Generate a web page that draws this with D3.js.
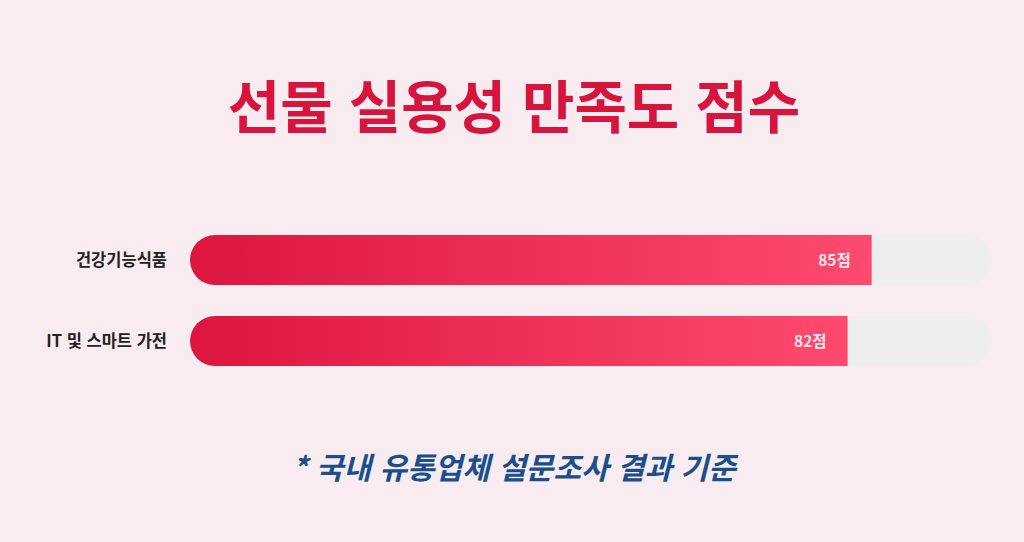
<!DOCTYPE html>
<html lang="ko">
<head>
<meta charset="UTF-8">
<title>선물 실용성 만족도 점수</title>
<script src="https://d3js.org/d3.v7.min.js"></script>
<style>
  html, body { margin: 0; padding: 0; background: #f9ecf0; }
  svg { display: block; }
</style>
</head>
<body>
<script>
// 데이터
const categories = ['건강기능식품', 'IT 및 스마트 가전'];
const scores = [85, 82];
const unit = '점';
const title = '선물 실용성 만족도 점수';
const note = '* 국내 유통업체 설문조사 결과 기준';

const W = 1024, H = 542;
const font = "'Noto Sans CJK KR', 'Noto Sans', sans-serif";

const svg = d3.select('body').append('svg')
    .attr('width', W).attr('height', H);

svg.append('rect').attr('width', W).attr('height', H).attr('fill', '#f9ecf0');

// 그라디언트
const defs = svg.append('defs');
const grad = defs.append('linearGradient').attr('id', 'barGrad')
    .attr('x1', '0%').attr('x2', '100%').attr('y1', '0%').attr('y2', '0%');
grad.append('stop').attr('offset', '0%').attr('stop-color', '#dc163e');
grad.append('stop').attr('offset', '100%').attr('stop-color', '#ff4a6f');

// 제목
svg.append('text')
    .attr('x', W / 2 + 2).attr('y', 128)
    .attr('text-anchor', 'middle')
    .attr('font-family', font).attr('font-weight', 700)
    .attr('font-size', 57)
    .attr('fill', '#d6143d')
    .text(title);

// 스케일
const x = d3.scaleLinear().domain([0, 100]).range([190, 992]);
const y = d3.scaleBand().domain(categories).range([235, 366]).paddingInner(0.383).paddingOuter(0);
const h = y.bandwidth();
const r = h / 2;

const rows = svg.selectAll('g.row')
    .data(categories.map((c, i) => ({ c, v: scores[i] })))
    .join('g').attr('class', 'row')
    .attr('transform', d => `translate(0,${y(d.c)})`);

// 배경 트랙
rows.append('rect')
    .attr('x', x(0)).attr('y', 0)
    .attr('width', x(100) - x(0)).attr('height', h)
    .attr('rx', r).attr('ry', r)
    .attr('fill', '#efeeee');

// 막대 (왼쪽만 둥글게)
rows.append('path')
    .attr('fill', 'url(#barGrad)')
    .attr('d', d => {
        const x0 = x(0), x1 = x(d.v);
        return `M${x0 + r},0 H${x1} V${h} H${x0 + r} A${r},${r} 0 0 1 ${x0 + r},0 Z`;
    });

// 값 라벨
rows.append('text')
    .attr('x', d => x(d.v) - 21).attr('y', h / 2)
    .attr('dy', '0.36em')
    .attr('text-anchor', 'end')
    .attr('font-family', font).attr('font-weight', 700)
    .attr('font-size', 15.5)
    .attr('fill', '#fbe6ea')
    .text(d => d.v + unit);

// 카테고리 라벨
rows.append('text')
    .attr('x', 167).attr('y', h / 2)
    .attr('dy', '0.36em')
    .attr('text-anchor', 'end')
    .attr('font-family', font).attr('font-weight', 700)
    .attr('font-size', 16.5)
    .attr('fill', '#222')
    .text(d => d.c);

// 주석
svg.append('text')
    .attr('x', W / 2 + 2).attr('y', 479)
    .attr('text-anchor', 'middle')
    .attr('font-family', font).attr('font-weight', 700)
    .attr('font-style', 'italic')
    .attr('font-size', 30)
    .attr('fill', '#1b4f8c')
    .text(note);
</script>
</body>
</html>
